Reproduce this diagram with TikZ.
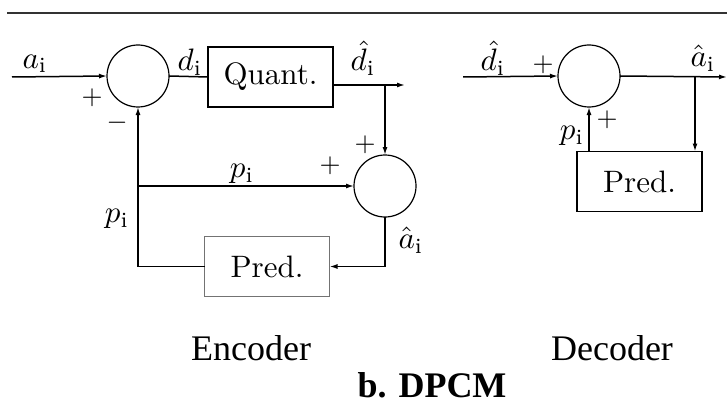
\documentclass[tikz,border=0pt]{standalone}
\usepackage{graphicx}
\usepackage{fontspec}
\newfontfamily\tnr{Liberation Serif}
\usetikzlibrary{arrows.meta}
\newcommand{\myscl}[1]{\scalebox{3.1}{#1}}
\newcommand{\mysgn}[1]{\scalebox{2.7}{#1}}
\begin{document}
\begin{tikzpicture}[x=1pt,y=-1pt,
  every node/.style={inner sep=0pt, outer sep=0pt},
  sumnode/.style={circle, draw, minimum size=62pt, line width=1.2pt},
  blk/.style={draw, line width=1.5pt, minimum width=125pt, minimum height=60pt},
  conn/.style={line width=1.5pt},
  arr/.style={conn, -{Latex[length=8pt,width=5pt]}},
  captxt/.style={font=\tnr\fontsize{36}{42}\selectfont},
]
\useasboundingbox (0,0) rectangle (727,401);
% top rule
\coordinate (r1) at (7,13);
\coordinate (r2) at (727,13);
\draw[line width=2pt, black!80] (r1) -- (r2);

% ---------------- Encoder ----------------
\node[sumnode] (s1) at (138,76) {};
\node[blk] (q) at (270.5,77) {\myscl{Quant.}};
\node[sumnode] (s2) at (385,186) {};
\node[blk, draw=black!55] (p1) at (267,266.5) {\myscl{Pred.}};

\coordinate (ain) at (12,77);
\coordinate (qo) at (333,85);
\coordinate (b1) at (385,85);
\coordinate (dout) at (405,85);
\coordinate (j1) at (138,186);

\draw[arr] (ain) -- (s1.west);
\draw[conn] (s1.east) -- (q.west);
\draw[arr] (qo) -- (dout);
\draw[arr] (b1) -- (s2.north);
\draw[arr] (j1) -- (s2.west);
\draw[arr] (p1.west) -| (s1.south);
\draw[arr] (s2.south) |- (p1.east);

\node (la) at (35,64) {\myscl{$a_\mathrm{i}$}};
\node (ld) at (190,62) {\myscl{$d_\mathrm{i}$}};
\node (ldh) at (363,58) {\myscl{$\hat{d}_\mathrm{i}$}};
\node (lp1) at (242,174) {\myscl{$p_\mathrm{i}$}};
\node (lp2) at (117,219) {\myscl{$p_\mathrm{i}$}};
\node (lah) at (411,240) {\myscl{$\hat{a}_\mathrm{i}$}};
\node (g1) at (92,98) {\mysgn{$+$}};
\node (g2) at (117,123) {\mysgn{$-$}};
\node (g3) at (365,145) {\mysgn{$+$}};
\node (g4) at (330,166) {\mysgn{$+$}};

% ---------------- Decoder ----------------
\node[sumnode] (s3) at (589,76) {};
\node[blk] (p2) at (639.5,181.5) {\myscl{Pred.}};
\coordinate (din) at (463,77);
\coordinate (aout) at (727,77);
\coordinate (b2) at (695,77);

\draw[arr] (din) -- (s3.west);
\draw[arr] (s3.east) -- (aout);
\draw[arr] (b2) -- (b2 |- p2.north);
\draw[arr] (p2.north -| s3.south) -- (s3.south);

\node (ldh2) at (493,58) {\myscl{$\hat{d}_\mathrm{i}$}};
\node (lah2) at (703,58) {\myscl{$\hat{a}_\mathrm{i}$}};
\node (lp3) at (572,136) {\myscl{$p_\mathrm{i}$}};
\node (g5) at (543,65) {\mysgn{$+$}};
\node (g6) at (607,120) {\mysgn{$+$}};

% ---------------- Captions ----------------
\node[captxt] (enc) at (251,348) {Encoder};
\node[captxt] (dec) at (612,348) {Decoder};
\node[captxt, font=\tnr\bfseries\fontsize{36}{42}\selectfont] (ttl) at (432,385) {b. DPCM};
\end{tikzpicture}
\end{document}
